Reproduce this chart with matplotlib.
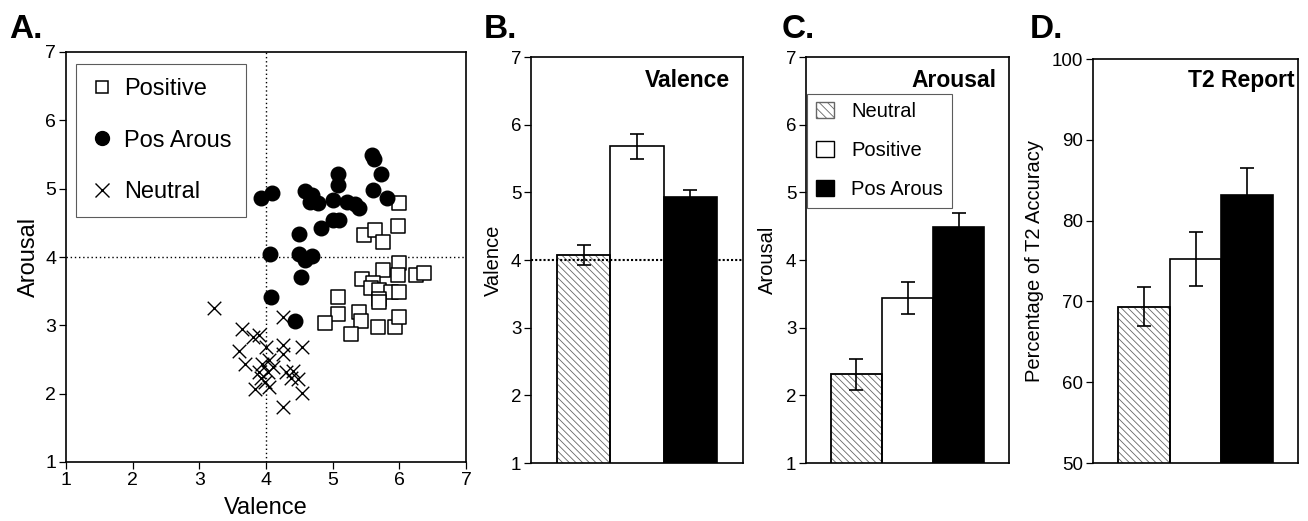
import matplotlib
matplotlib.use("Agg")
import matplotlib.pyplot as plt
from matplotlib.patches import Patch
from matplotlib.lines import Line2D

plt.rcParams['font.family'] = ['Liberation Sans', 'DejaVu Sans']
plt.rcParams['hatch.linewidth'] = 0.6

# ---- Panel A data (valence, arousal) ----
pos_val = [6.0, 5.47, 5.64, 5.75, 5.98, 6.0, 5.75, 5.44, 5.60, 5.98, 6.25, 6.37, 5.58,
           5.70, 5.88, 6.0, 5.70, 5.70, 5.08, 5.08, 4.89, 5.39, 5.43, 5.28, 5.68, 5.93, 6.0]
pos_aro = [4.79, 4.32, 4.40, 4.22, 4.45, 3.91, 3.81, 3.68, 3.62, 3.73, 3.73, 3.77, 3.54,
           3.51, 3.49, 3.49, 3.39, 3.34, 3.42, 3.16, 3.04, 3.19, 3.07, 2.88, 2.98, 2.98, 3.12]
pa_val = [3.93, 4.09, 4.58, 4.69, 4.66, 4.78, 5.0, 5.08, 5.08, 5.21, 5.33, 5.40, 5.59, 5.62,
          5.72, 5.61, 5.82, 4.83, 5.01, 5.10, 4.49, 4.06, 4.49, 4.58, 4.69, 4.53, 4.08, 4.44]
pa_aro = [4.87, 4.94, 4.97, 4.90, 4.80, 4.79, 4.84, 5.22, 5.05, 4.80, 4.78, 4.72, 5.49, 5.43,
          5.22, 4.98, 4.87, 4.42, 4.54, 4.54, 4.34, 4.04, 4.04, 3.95, 4.01, 3.71, 3.42, 3.07]
neu_val = [3.22, 4.25, 3.64, 3.80, 3.89, 4.0, 4.25, 4.54, 3.59, 4.26, 3.69, 3.94, 4.04,
           3.90, 4.03, 4.30, 4.40, 4.37, 4.48, 3.93, 3.98, 3.84, 4.04, 4.54, 4.25, 4.10]
neu_aro = [3.26, 3.12, 2.95, 2.83, 2.86, 2.68, 2.71, 2.68, 2.62, 2.58, 2.43, 2.44, 2.49,
           2.32, 2.32, 2.32, 2.33, 2.23, 2.21, 2.23, 2.17, 2.07, 2.10, 2.01, 1.80, 2.39]

# ---- Bar panels ----
categories = ['Neutral', 'Positive', 'Pos Arous']
valence_mean = [4.07, 5.68, 4.925]
valence_err = [0.15, 0.18, 0.11]
arousal_mean = [2.31, 3.435, 4.49]
arousal_err = [0.23, 0.24, 0.20]
t2_mean = [69.35, 75.25, 83.2]
t2_err = [2.45, 3.4, 3.25]

fig = plt.figure(figsize=(13.08, 5.21), dpi=100)
W, H = 1308, 521

def add_ax(l, r, t, b):
    return fig.add_axes([l / W, 1 - b / H, (r - l) / W, (b - t) / H])

def style(ax, tsize):
    for s in ax.spines.values():
        s.set_linewidth(1.2)
    ax.tick_params(axis='both', direction='out', length=5, width=0.9, labelsize=tsize,
                   top=False, right=False, pad=2)

# Panel A
axA = add_ax(66, 466, 52, 462)
style(axA, 14)
axA.axvline(4, color='black', linestyle=(0, (1, 2)), linewidth=1, zorder=1)
axA.axhline(4, color='black', linestyle=(0, (1, 2)), linewidth=1, zorder=1)
axA.scatter(pos_val, pos_aro, marker='s', s=90, facecolors='white', edgecolors='black',
            linewidths=1.1, zorder=3)
axA.scatter(pa_val, pa_aro, marker='o', s=110, color='black', zorder=3)
axA.scatter(neu_val, neu_aro, marker='x', s=95, color='black', linewidths=1.0, zorder=3)
axA.set_xlim(1, 7)
axA.set_ylim(1, 7)
axA.set_xticks(range(1, 8))
axA.set_yticks(range(1, 8))
axA.set_xlabel('Valence', fontsize=17, labelpad=6)
axA.set_ylabel('Arousal', fontsize=17, labelpad=4)
hA = [Line2D([], [], marker='s', linestyle='none', markersize=9, markerfacecolor='white',
             markeredgecolor='black', markeredgewidth=1.1),
      Line2D([], [], marker='o', linestyle='none', markersize=10, color='black'),
      Line2D([], [], marker='x', linestyle='none', markersize=10, color='black',
             markeredgewidth=1.0)]
legA = axA.legend(hA, ['Positive', 'Pos Arous', 'Neutral'], loc='upper left',
                  bbox_to_anchor=(0.024, 0.971), fontsize=17, frameon=True,
                  fancybox=False, edgecolor='#333333', labelspacing=1.25,
                  handletextpad=0.45, borderpad=0.6, handlelength=1.0, borderaxespad=0)
legA.get_frame().set_linewidth(0.8)

def bar_panel(ax, means, errs, ylim, yticks):
    style(ax, 13.5)
    x = [0, 1, 2]
    bars = ax.bar(x, means, width=1.0, bottom=0, color=['white', 'white', 'black'],
                  edgecolor='black', linewidth=1.2, zorder=2)
    bars[0].set_hatch('\\\\\\\\\\')
    bars[0].set_edgecolor('#666666')
    ax.bar([0], means[:1], width=1.0, color='none', edgecolor='black', linewidth=1.2, zorder=3)
    ax.errorbar(x, means, yerr=errs, fmt='none', ecolor='black', elinewidth=1.2,
                capsize=5, capthick=1.2, zorder=4)
    ax.set_xlim(-0.985, 2.985)
    ax.set_ylim(*ylim)
    ax.set_yticks(yticks)
    ax.set_xticks([])

# Panel B
axB = add_ax(531, 743, 57, 463)
bar_panel(axB, valence_mean, valence_err, (1, 7), range(1, 8))
axB.axhline(4, color='black', linestyle=(0, (1, 1)), linewidth=1.5, zorder=3.5)
axB.set_ylabel('Valence', fontsize=14.5, labelpad=6)
axB.text(0.94, 0.926, 'Valence', transform=axB.transAxes, ha='right', va='baseline',
         fontsize=16.5, fontweight='bold')

# Panel C
axC = add_ax(806, 1009, 57, 463)
bar_panel(axC, arousal_mean, arousal_err, (1, 7), range(1, 8))
axC.set_ylabel('Arousal', fontsize=14.5, labelpad=6)
axC.text(0.94, 0.926, 'Arousal', transform=axC.transAxes, ha='right', va='baseline',
         fontsize=16.5, fontweight='bold')
hC = [Patch(facecolor='white', edgecolor='#666666', hatch='\\\\\\\\'),
      Patch(facecolor='white', edgecolor='black'),
      Patch(facecolor='black', edgecolor='black')]
legC = axC.legend(hC, categories, loc='upper left', bbox_to_anchor=(0.006, 0.91),
                  fontsize=14.5, frameon=True, fancybox=False, edgecolor='#333333',
                  labelspacing=1.0, handletextpad=0.87, borderpad=0.42,
                  handlelength=0.9, handleheight=0.85, borderaxespad=0)
legC.get_frame().set_linewidth(0.8)

# Panel D
axD = add_ax(1093, 1298, 59, 463)
bar_panel(axD, t2_mean, t2_err, (50, 100), range(50, 101, 10))
axD.set_ylabel('Percentage of T2 Accuracy', fontsize=14.5, labelpad=6)
axD.text(0.985, 0.931, 'T2 Report', transform=axD.transAxes, ha='right', va='baseline',
         fontsize=16.5, fontweight='bold')

# Panel letters
for lbl, x in [('A.', 9), ('B.', 484), ('C.', 782), ('D.', 1030)]:
    fig.text(x / W, 1 - 38 / H, lbl, fontsize=24, fontweight='bold', ha='left',
             va='baseline')

fig.savefig('out.png', dpi=100)
